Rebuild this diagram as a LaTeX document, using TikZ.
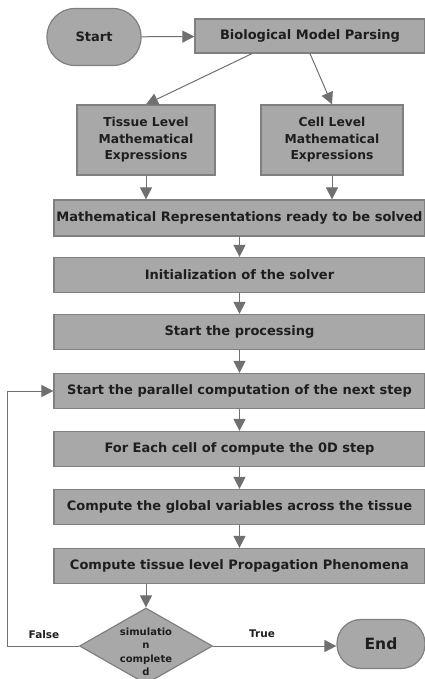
\documentclass[tikz,border=0pt]{standalone}
\usepackage{fontspec}
\setmainfont{DejaVu Sans}
\usetikzlibrary{arrows.meta,shapes.geometric,calc}
\definecolor{boxfill}{HTML}{A8A8A8}
\definecolor{boxline}{HTML}{808080}
\definecolor{arr}{HTML}{707070}
\definecolor{txt}{HTML}{1E1E1E}
\begin{document}
\begin{tikzpicture}[x=1pt,y=-1pt,
  font=\bfseries\fontsize{13}{16.5}\selectfont, text=txt,
  procbox/.style={draw=boxline,line width=1.2pt,fill=boxfill,inner sep=0pt,align=center},
  mainbox/.style={procbox,minimum width=371pt,minimum height=35pt},
  term/.style={draw=boxline,line width=1.2pt,fill=boxfill,rounded corners=24pt,inner sep=0pt},
  link/.style={draw=arr,line width=1pt,-{Triangle[length=12pt,width=12pt]}},
  lab/.style={font=\bfseries\fontsize{10.5}{12}\selectfont}]
\useasboundingbox (0,0) rectangle (425,679);
\node[term,minimum width=94pt,minimum height=57pt,rounded corners=28pt] (start) at (94,37) {Start};
\node[procbox,minimum width=230pt,minimum height=34pt] (bio) at (310,36) {Biological Model Parsing};
\node[procbox,minimum width=138pt,minimum height=70pt,font=\bfseries\fontsize{12.3}{16.5}\selectfont] (tissue) at (146,140) {Tissue Level\\Mathematical\\Expressions};
\node[procbox,minimum width=142pt,minimum height=70pt,font=\bfseries\fontsize{12.3}{16.5}\selectfont] (cell) at (332,140) {Cell Level\\Mathematical\\Expressions};
\node[mainbox,minimum height=36pt] (mrep) at (239.5,218) {Mathematical Representations ready to be solved};
\node[mainbox] (init) at (239.5,275) {Initialization of the solver};
\node[mainbox] (sproc) at (239.5,332) {Start the processing};
\node[mainbox] (par) at (239.5,391) {Start the parallel computation of the next step};
\node[mainbox] (each) at (239.5,449) {For Each cell of compute the 0D step};
\node[mainbox] (glob) at (239.5,507) {Compute the global variables across the tissue};
\node[mainbox] (prop) at (239.5,566) {Compute tissue level Propagation Phenomena};
\node[diamond,draw=boxline,line width=1.2pt,fill=boxfill,minimum width=133pt,minimum height=76pt,inner sep=0pt,aspect=1.75] (dec) at (146,646) {};
\node[align=center,font=\bfseries\fontsize{10}{13.5}\selectfont] (dectext) at (146,652) {simulatio\\n\\complete\\d};
\node[term,minimum width=88pt,minimum height=49pt] (end) at (381,644) {\fontsize{15.5}{18}\selectfont End};
\coordinate (loop) at (7,646);
\node[lab] (flab) at (44,635) {False};
\node[lab] (tlab) at (262,634) {True};
\draw[link] (start) -- (bio);
\draw[link] ([xshift=-58pt]bio.south) -- (tissue.north);
\draw[link] (bio.south) -- (cell.north);
\draw[link] (tissue.south) -- (tissue.south |- mrep.north);
\draw[link] (cell.south) -- (cell.south |- mrep.north);
\draw[link] (mrep) -- (init);
\draw[link] (init) -- (sproc);
\draw[link] (sproc) -- (par);
\draw[link] (par) -- (each);
\draw[link] (each) -- (glob);
\draw[link] (glob) -- (prop);
\draw[link] (prop.south -| dec.north) -- (dec.north);
\draw[link] (dec.east) -- (end.west |- dec.east);
\draw[link] (dec.west) -- (loop) |- (par.west);
\end{tikzpicture}
\end{document}
